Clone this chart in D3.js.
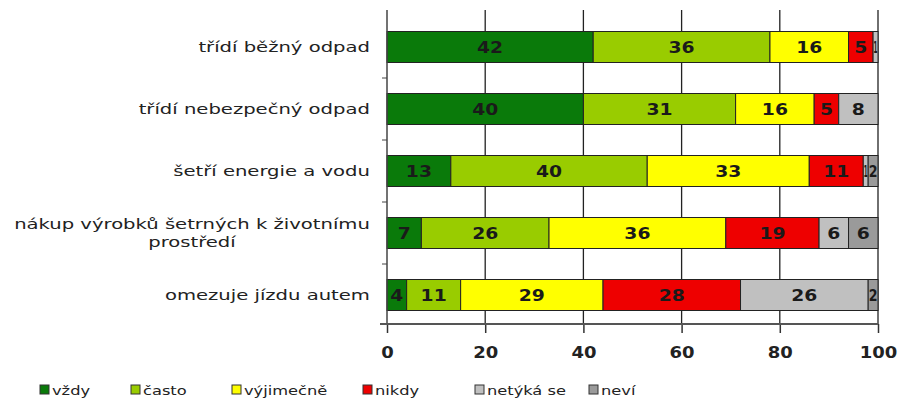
<html>
<head>
<meta charset="utf-8">
<style>
  body { margin: 0; background: #fff; }
  svg { display: block; }
  text { font-family: "DejaVu Sans", Verdana, sans-serif; }
</style>
</head>
<body>
<svg id="chart" width="902" height="405"></svg>
<script src="https://cdn.jsdelivr.net/npm/d3@7"></script>
<script>
// data
var categories = ["třídí běžný odpad", "třídí nebezpečný odpad", "šetří energie a vodu",
  "nákup výrobků šetrných k životnímu|prostředí", "omezuje jízdu autem"];
var series = ["vždy", "často", "výjimečně", "nikdy", "netýká se", "neví"];
var vzdy = [42, 40, 13, 7, 4];
var casto = [36, 31, 40, 26, 11];
var vyjimecne = [16, 16, 33, 36, 29];
var nikdy = [5, 5, 11, 19, 28];
var netyka = [1, 8, 1, 6, 26];
var nevi = [0, 0, 2, 6, 2];
var xTicks = [0, 20, 40, 60, 80, 100];
var colors = ["#0a7a0a", "#99cc00", "#ffff00", "#ee0000", "#c0c0c0", "#9a9a9a"];

var values = [vzdy, casto, vyjimecne, nikdy, netyka, nevi];
var rows = categories.map(function(c, i) {
  var r = { cat: c };
  series.forEach(function(s, j) { r[s] = values[j][i]; });
  return r;
});
var stacked = d3.stack().keys(series)(rows);

var svg = d3.select("#chart");
var x = d3.scaleLinear().domain([0, 100]).range([387, 878]);
var y = d3.scaleBand().domain(categories).range([16, 326]).paddingInner(0.5).paddingOuter(0.25);
var sx = 1.25; // text in the picture is stretched sideways

// vertical grid lines
svg.append("g").selectAll("line").data(xTicks.slice(1)).enter().append("line")
  .attr("x1", function(d) { return x(d); }).attr("x2", function(d) { return x(d); })
  .attr("y1", 10).attr("y2", 324)
  .attr("stroke", "#222").attr("stroke-width", 1.3);

// bars
var layer = svg.append("g").selectAll("g").data(stacked).enter().append("g")
  .attr("fill", function(d, i) { return colors[i]; });
layer.selectAll("rect").data(function(d) { return d; }).enter().append("rect")
  .attr("x", function(d) { return x(d[0]); })
  .attr("width", function(d) { return x(d[1]) - x(d[0]); })
  .attr("y", function(d) { return y(d.data.cat); })
  .attr("height", y.bandwidth())
  .attr("stroke", "#222").attr("stroke-width", 1);

// value labels (narrow slices get squeezed so the text stays inside)
layer.selectAll("text").data(function(d) { return d.filter(function(p) { return p[1] - p[0] > 0; }); })
  .enter().append("text")
  .attr("text-anchor", "middle")
  .attr("font-size", 15).attr("font-weight", "bold").attr("fill", "#1a1a1a")
  .text(function(d) { return d[1] - d[0]; })
  .each(function(d) {
    var w = this.getBBox().width;
    var segW = x(d[1]) - x(d[0]);
    var s = Math.min(sx, (segW - 1) / w);
    d3.select(this).attr("transform", "translate(" + x((d[0] + d[1]) / 2) + "," +
      (y(d.data.cat) + y.bandwidth() / 2 + 6) + ") scale(" + s + ",1)");
  });

// y axis
svg.append("line").attr("x1", 387).attr("x2", 387).attr("y1", 10).attr("y2", 324)
  .attr("stroke", "#444").attr("stroke-width", 1.5);
svg.append("g").selectAll("line").data(categories.slice(1)).enter().append("line")
  .attr("x1", 382).attr("x2", 387)
  .attr("y1", function(d) { return y(d) - y.step() * 0.25; })
  .attr("y2", function(d) { return y(d) - y.step() * 0.25; })
  .attr("stroke", "#444");

// category labels
var csx = 1.4;
var catText = svg.append("g").selectAll("text").data(categories).enter().append("text")
  .attr("text-anchor", "middle").attr("font-size", 14).attr("fill", "#222");
catText.each(function(d) {
  var lines = d.split("|");
  var t = d3.select(this);
  var cy = y(d) + y.bandwidth() / 2;
  lines.forEach(function(l, i) {
    t.append("tspan").attr("x", 0).attr("y", (i - (lines.length - 1) / 2) * 18 + 5).text(l);
  });
  var bb = this.getBBox();
  var cx = 370 - bb.width * csx / 2;
  t.attr("transform", "translate(" + cx + "," + cy + ") scale(" + csx + ",1)");
});

// x axis
var xAxis = d3.axisBottom(x).tickValues(xTicks).tickSize(9).tickSizeOuter(0);
var gx = svg.append("g").attr("transform", "translate(0,324)").call(xAxis);
gx.select(".domain").remove();
gx.append("line").attr("x1", 380).attr("x2", 878).attr("stroke", "#555").attr("stroke-width", 2);
gx.selectAll(".tick line").attr("stroke", "#333").attr("stroke-width", 1.5);
gx.selectAll(".tick text")
  .attr("font-family", "'DejaVu Sans', Verdana, sans-serif")
  .attr("font-size", 15).attr("font-weight", "bold").attr("fill", "#222")
  .attr("y", 0).attr("dy", null)
  .attr("transform", "translate(0,34) scale(1.2,1)");

// legend
var legendX = [40, 131, 232, 363, 475, 589];
var lg = svg.append("g").selectAll("g").data(series).enter().append("g")
  .attr("transform", function(d, i) { return "translate(" + legendX[i] + ",390)"; });
lg.append("rect").attr("x", 0).attr("y", -5).attr("width", 9).attr("height", 9)
  .attr("fill", function(d, i) { return colors[i]; }).attr("stroke", "#333");
lg.append("text").attr("transform", "translate(12,5) scale(1.25,1)")
  .attr("font-size", 13).attr("fill", "#222").text(function(d) { return d; });
</script>
</body>
</html>
